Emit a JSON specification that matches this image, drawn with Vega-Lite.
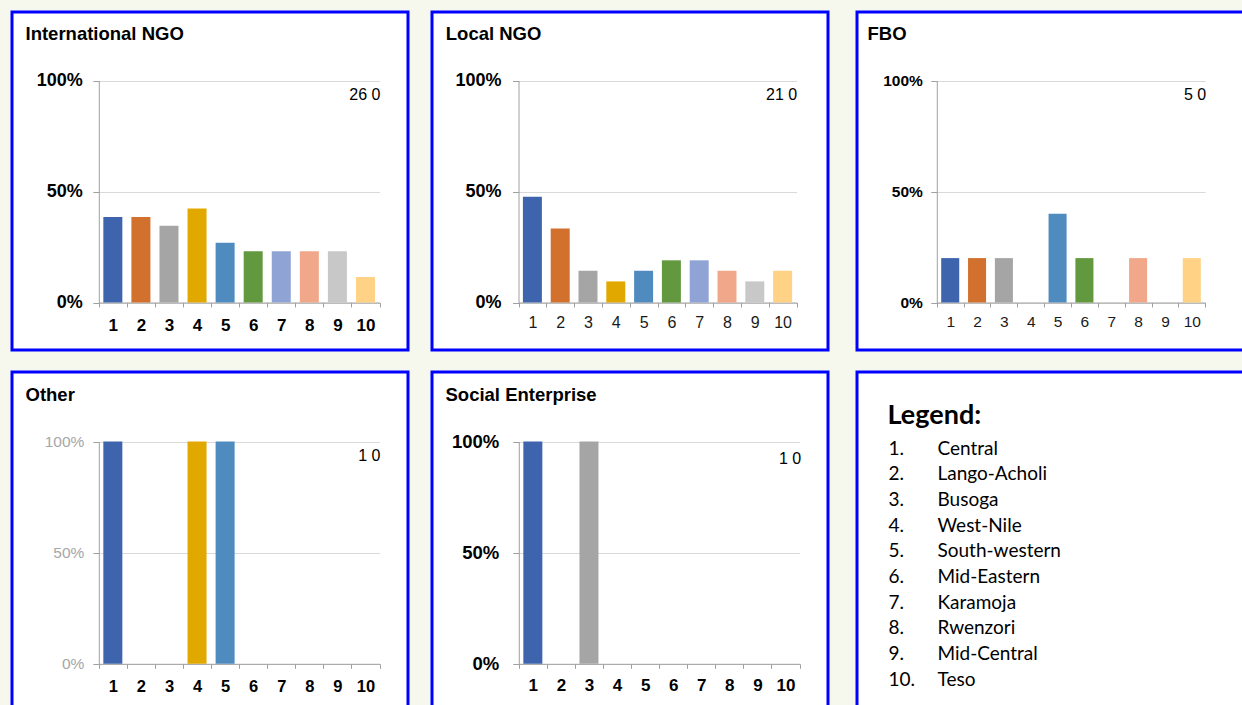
{
  "$schema": "https://vega.github.io/schema/vega-lite/v6.json",
  "background": "#F6F8EE",
  "padding": {"left": 10, "top": 10, "right": 0, "bottom": 0},
  "datasets": {
    "intl": [
      {"region": 1, "share": 0.385}, {"region": 2, "share": 0.385}, {"region": 3, "share": 0.346},
      {"region": 4, "share": 0.423}, {"region": 5, "share": 0.269}, {"region": 6, "share": 0.231},
      {"region": 7, "share": 0.231}, {"region": 8, "share": 0.231}, {"region": 9, "share": 0.231},
      {"region": 10, "share": 0.115}
    ],
    "local": [
      {"region": 1, "share": 0.476}, {"region": 2, "share": 0.333}, {"region": 3, "share": 0.143},
      {"region": 4, "share": 0.095}, {"region": 5, "share": 0.143}, {"region": 6, "share": 0.19},
      {"region": 7, "share": 0.19}, {"region": 8, "share": 0.143}, {"region": 9, "share": 0.095},
      {"region": 10, "share": 0.143}
    ],
    "fbo": [
      {"region": 1, "share": 0.2}, {"region": 2, "share": 0.2}, {"region": 3, "share": 0.2},
      {"region": 4, "share": 0}, {"region": 5, "share": 0.4}, {"region": 6, "share": 0.2},
      {"region": 7, "share": 0}, {"region": 8, "share": 0.2}, {"region": 9, "share": 0},
      {"region": 10, "share": 0.2}
    ],
    "other": [
      {"region": 1, "share": 1}, {"region": 2, "share": 0}, {"region": 3, "share": 0},
      {"region": 4, "share": 1}, {"region": 5, "share": 1}, {"region": 6, "share": 0},
      {"region": 7, "share": 0}, {"region": 8, "share": 0}, {"region": 9, "share": 0},
      {"region": 10, "share": 0}
    ],
    "social": [
      {"region": 1, "share": 1}, {"region": 2, "share": 0}, {"region": 3, "share": 1},
      {"region": 4, "share": 0}, {"region": 5, "share": 0}, {"region": 6, "share": 0},
      {"region": 7, "share": 0}, {"region": 8, "share": 0}, {"region": 9, "share": 0},
      {"region": 10, "share": 0}
    ],
    "legend": [
      {"n": 1, "num": "1.", "name": "Central"},
      {"n": 2, "num": "2.", "name": "Lango-Acholi"},
      {"n": 3, "num": "3.", "name": "Busoga"},
      {"n": 4, "num": "4.", "name": "West-Nile"},
      {"n": 5, "num": "5.", "name": "South-western"},
      {"n": 6, "num": "6.", "name": "Mid-Eastern"},
      {"n": 7, "num": "7.", "name": "Karamoja"},
      {"n": 8, "num": "8.", "name": "Rwenzori"},
      {"n": 9, "num": "9.", "name": "Mid-Central"},
      {"n": 10, "num": "10.", "name": "Teso"}
    ]
  },
  "spacing": 25,
  "hconcat": [
    {
      "spacing": 20,
      "hconcat": [
        {
          "spacing": 18,
          "vconcat": [
            {
              "width": 396, "height": 338,
              "title": {"text": "International NGO", "anchor": "start", "frame": "group", "offset": -46.5, "dx": 13.5, "baseline": "alphabetic", "font": "Liberation Sans", "fontSize": 18.5, "fontWeight": "bold", "color": "#000000"},
              "layer": [
                {
                  "data": {"name": "intl"},
                  "mark": {"type": "bar", "width": {"band": 0.677}},
                  "encoding": {
                    "x": {"field": "region", "type": "ordinal",
                      "scale": {"domain": [1,2,3,4,5,6,7,8,9,10], "range": [86.8, 367.5], "paddingInner": 0, "paddingOuter": 0},
                      "axis": {"title": null, "orient": "bottom", "offset": -47.5, "tickBand": "extent", "labelAngle": 0, "labelFontSize": 17, "labelFontWeight": "bold", "labelColor": "#000000", "labelPadding": 10, "tickSize": 4.5, "grid": false}},
                    "y": {"field": "share", "type": "quantitative",
                      "scale": {"domain": [0, 1], "range": [290.5, 68.5], "nice": false},
                      "axis": {"title": null, "orient": "left", "offset": -86.8, "values": [0, 0.5, 1], "format": ".0%", "labelFontSize": 18, "labelFontWeight": "bold", "labelColor": "#000000", "labelPadding": 10.5, "tickSize": 6, "grid": true}},
                    "color": {"field": "region", "type": "nominal",
                      "scale": {"domain": [1,2,3,4,5,6,7,8,9,10], "range": ["#3E64AD", "#D2702D", "#A5A5A5", "#E1A900", "#508BBF", "#62993E", "#8FA4D4", "#F0A78A", "#C8C8C8", "#FFD285"]},
                      "legend": null}
                  }
                },
                {
                  "data": {"values": [{"label": "26 0"}]},
                  "mark": {"type": "text", "align": "right", "baseline": "middle", "dx": 15, "fontSize": 16, "color": "#000000"},
                  "encoding": {"x": {"datum": 10, "type": "ordinal"}, "y": {"datum": 0.935, "type": "quantitative"}, "text": {"field": "label"}}
                }
              ]
            },
            {
              "width": 396, "height": 338,
              "title": {"text": "Other", "anchor": "start", "frame": "group", "offset": -47, "dx": 13.5, "baseline": "alphabetic", "font": "Liberation Sans", "fontSize": 18.5, "fontWeight": "bold", "color": "#000000"},
              "layer": [
                {
                  "data": {"name": "other"},
                  "mark": {"type": "bar", "width": {"band": 0.677}},
                  "encoding": {
                    "x": {"field": "region", "type": "ordinal",
                      "scale": {"domain": [1,2,3,4,5,6,7,8,9,10], "range": [86.8, 367.5], "paddingInner": 0, "paddingOuter": 0},
                      "axis": {"title": null, "orient": "bottom", "offset": -46.2, "tickBand": "extent", "labelAngle": 0, "labelFontSize": 16.5, "labelFontWeight": "bold", "labelColor": "#000000", "labelPadding": 10, "tickSize": 4.5, "grid": false}},
                    "y": {"field": "share", "type": "quantitative",
                      "scale": {"domain": [0, 1], "range": [291.8, 69.5], "nice": false},
                      "axis": {"title": null, "orient": "left", "offset": -86.8, "values": [0, 0.5, 1], "format": ".0%", "labelFontSize": 15.5, "labelFontWeight": "normal", "labelColor": "#A6A6A6", "labelPadding": 9, "tickSize": 6, "grid": true}},
                    "color": {"field": "region", "type": "nominal",
                      "scale": {"domain": [1,2,3,4,5,6,7,8,9,10], "range": ["#3E64AD", "#D2702D", "#A5A5A5", "#E1A900", "#508BBF", "#62993E", "#8FA4D4", "#F0A78A", "#C8C8C8", "#FFD285"]},
                      "legend": null}
                  }
                },
                {
                  "data": {"values": [{"label": "1 0"}]},
                  "mark": {"type": "text", "align": "right", "baseline": "middle", "dx": 15, "fontSize": 16, "color": "#000000"},
                  "encoding": {"x": {"datum": 10, "type": "ordinal"}, "y": {"datum": 0.935, "type": "quantitative"}, "text": {"field": "label"}}
                }
              ]
            }
          ]
        },
        {
          "spacing": 18,
          "vconcat": [
            {
              "width": 396, "height": 338,
              "title": {"text": "Local NGO", "anchor": "start", "frame": "group", "offset": -46.5, "dx": 13.8, "baseline": "alphabetic", "font": "Liberation Sans", "fontSize": 18.5, "fontWeight": "bold", "color": "#000000"},
              "layer": [
                {
                  "data": {"name": "local"},
                  "mark": {"type": "bar", "width": {"band": 0.683}},
                  "encoding": {
                    "x": {"field": "region", "type": "ordinal",
                      "scale": {"domain": [1,2,3,4,5,6,7,8,9,10], "range": [86.5, 364.5], "paddingInner": 0, "paddingOuter": 0},
                      "axis": {"title": null, "orient": "bottom", "offset": -47.5, "tickBand": "extent", "labelAngle": 0, "labelFontSize": 16, "labelFontWeight": "normal", "labelColor": "#1A1A1A", "labelPadding": 7, "tickSize": 4.5, "grid": false}},
                    "y": {"field": "share", "type": "quantitative",
                      "scale": {"domain": [0, 1], "range": [290.5, 68.5], "nice": false},
                      "axis": {"title": null, "orient": "left", "offset": -86.5, "values": [0, 0.5, 1], "format": ".0%", "labelFontSize": 18, "labelFontWeight": "bold", "labelColor": "#000000", "labelPadding": 11.5, "tickSize": 6, "grid": true}},
                    "color": {"field": "region", "type": "nominal",
                      "scale": {"domain": [1,2,3,4,5,6,7,8,9,10], "range": ["#3E64AD", "#D2702D", "#A5A5A5", "#E1A900", "#508BBF", "#62993E", "#8FA4D4", "#F0A78A", "#C8C8C8", "#FFD285"]},
                      "legend": null}
                  }
                },
                {
                  "data": {"values": [{"label": "21 0"}]},
                  "mark": {"type": "text", "align": "right", "baseline": "middle", "dx": 14.6, "fontSize": 16, "color": "#000000"},
                  "encoding": {"x": {"datum": 10, "type": "ordinal"}, "y": {"datum": 0.934, "type": "quantitative"}, "text": {"field": "label"}}
                }
              ]
            },
            {
              "width": 396, "height": 338,
              "title": {"text": "Social Enterprise", "anchor": "start", "frame": "group", "offset": -47, "dx": 13.5, "baseline": "alphabetic", "font": "Liberation Sans", "fontSize": 18.5, "fontWeight": "bold", "color": "#000000"},
              "layer": [
                {
                  "data": {"name": "social"},
                  "mark": {"type": "bar", "width": {"band": 0.677}},
                  "encoding": {
                    "x": {"field": "region", "type": "ordinal",
                      "scale": {"domain": [1,2,3,4,5,6,7,8,9,10], "range": [86.8, 367.5], "paddingInner": 0, "paddingOuter": 0},
                      "axis": {"title": null, "orient": "bottom", "offset": -46.2, "tickBand": "extent", "labelAngle": 0, "labelFontSize": 17, "labelFontWeight": "bold", "labelColor": "#000000", "labelPadding": 9, "tickSize": 4.5, "grid": false}},
                    "y": {"field": "share", "type": "quantitative",
                      "scale": {"domain": [0, 1], "range": [291.8, 69.5], "nice": false},
                      "axis": {"title": null, "orient": "left", "offset": -86.8, "values": [0, 0.5, 1], "format": ".0%", "labelFontSize": 18.5, "labelFontWeight": "bold", "labelColor": "#000000", "labelPadding": 14, "tickSize": 6, "grid": true}},
                    "color": {"field": "region", "type": "nominal",
                      "scale": {"domain": [1,2,3,4,5,6,7,8,9,10], "range": ["#3E64AD", "#D2702D", "#A5A5A5", "#E1A900", "#508BBF", "#62993E", "#8FA4D4", "#F0A78A", "#C8C8C8", "#FFD285"]},
                      "legend": null}
                  }
                },
                {
                  "data": {"values": [{"label": "1 0"}]},
                  "mark": {"type": "text", "align": "right", "baseline": "middle", "dx": 15.7, "fontSize": 16, "color": "#000000"},
                  "encoding": {"x": {"datum": 10, "type": "ordinal"}, "y": {"datum": 0.923, "type": "quantitative"}, "text": {"field": "label"}}
                }
              ]
            }
          ]
        }
      ]
    },
    {
      "spacing": 18,
      "vconcat": [
        {
          "width": 396, "height": 338,
          "title": {"text": "FBO", "anchor": "start", "frame": "group", "offset": -46.5, "dx": 10.5, "baseline": "alphabetic", "font": "Liberation Sans", "fontSize": 18.5, "fontWeight": "bold", "color": "#000000"},
          "layer": [
            {
              "data": {"name": "fbo"},
              "mark": {"type": "bar", "width": {"band": 0.672}},
              "encoding": {
                "x": {"field": "region", "type": "ordinal",
                  "scale": {"domain": [1,2,3,4,5,6,7,8,9,10], "range": [79.8, 348.2], "paddingInner": 0, "paddingOuter": 0},
                  "axis": {"title": null, "orient": "bottom", "offset": -47.5, "tickBand": "extent", "labelAngle": 0, "labelFontSize": 15.5, "labelFontWeight": "normal", "labelColor": "#1A1A1A", "labelPadding": 7, "tickSize": 4.5, "grid": false}},
                "y": {"field": "share", "type": "quantitative",
                  "scale": {"domain": [0, 1], "range": [290.5, 68.5], "nice": false},
                  "axis": {"title": null, "orient": "left", "offset": -79.8, "values": [0, 0.5, 1], "format": ".0%", "labelFontSize": 15.5, "labelFontWeight": "bold", "labelColor": "#000000", "labelPadding": 8.5, "tickSize": 6, "grid": true}},
                "color": {"field": "region", "type": "nominal",
                  "scale": {"domain": [1,2,3,4,5,6,7,8,9,10], "range": ["#3E64AD", "#D2702D", "#A5A5A5", "#E1A900", "#508BBF", "#62993E", "#8FA4D4", "#F0A78A", "#C8C8C8", "#FFD285"]},
                  "legend": null}
              }
            },
            {
              "data": {"values": [{"label": "5 0"}]},
              "mark": {"type": "text", "align": "right", "baseline": "middle", "dx": 14.4, "fontSize": 16, "color": "#000000"},
              "encoding": {"x": {"datum": 10, "type": "ordinal"}, "y": {"datum": 0.935, "type": "quantitative"}, "text": {"field": "label"}}
            }
          ]
        },
        {
          "width": 396, "height": 338,
          "title": {"text": "Legend:", "anchor": "start", "frame": "group", "offset": -78.5, "dx": 30.5, "baseline": "alphabetic", "font": "Lato", "fontSize": 27, "fontWeight": "bold", "color": "#000000"},
          "data": {"name": "legend"},
          "layer": [
            {
              "mark": {"type": "text", "align": "left", "baseline": "middle", "font": "Lato", "fontSize": 19, "color": "#000000"},
              "encoding": {
                "x": {"datum": 0, "type": "quantitative", "scale": {"domain": [0, 1], "range": [31.5, 80.5]}, "axis": null},
                "y": {"field": "n", "type": "quantitative", "scale": {"domain": [1, 10], "range": [76.5, 307.8]}, "axis": null},
                "text": {"field": "num"}
              }
            },
            {
              "mark": {"type": "text", "align": "left", "baseline": "middle", "font": "Lato", "fontSize": 19, "color": "#000000"},
              "encoding": {
                "x": {"datum": 1, "type": "quantitative"},
                "y": {"field": "n", "type": "quantitative"},
                "text": {"field": "name"}
              }
            }
          ]
        }
      ]
    }
  ],
  "config": {
    "font": "Liberation Sans",
    "view": {"stroke": "#0000FF", "strokeWidth": 3, "fill": "#FFFFFF"},
    "axis": {"domainColor": "#A0A0A0", "tickColor": "#A0A0A0", "gridColor": "#D9D9D9", "domainWidth": 1, "tickWidth": 1, "gridWidth": 1, "labelFont": "Liberation Sans"},
    "text": {"font": "Liberation Sans"}
  }
}
